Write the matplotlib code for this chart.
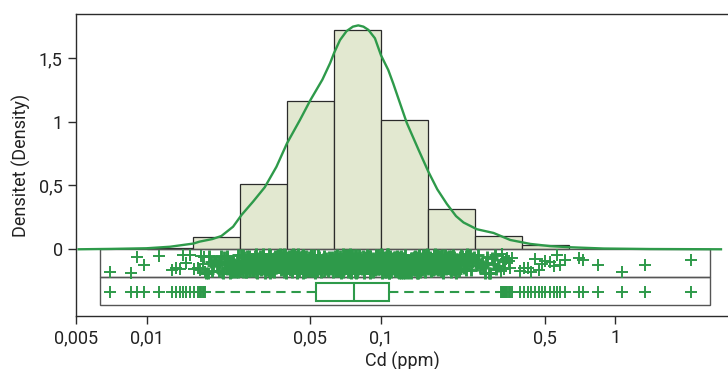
import numpy as np
import matplotlib.pyplot as plt
from matplotlib.patches import Rectangle
from matplotlib.ticker import FixedLocator, NullLocator

plt.rcParams['font.family'] = ['Roboto', 'DejaVu Sans']

# histogram (density per log10 unit), bins of 0.2 decades
bin_edges = [0.01, 0.0158, 0.0251, 0.0398, 0.0631, 0.1, 0.158, 0.251, 0.398, 0.631]
hist_density = [0.012, 0.10, 0.51, 1.16, 1.716, 1.013, 0.313, 0.107, 0.036]

# kernel density curve (log10 ppm, density)
kde_log10 = [-2.29, -2.15, -2.0, -1.90, -1.80, -1.774, -1.72, -1.681, -1.631,
             -1.595, -1.546, -1.496, -1.446, -1.401, -1.346, -1.301, -1.25,
             -1.217, -1.200, -1.175, -1.147, -1.12, -1.097, -1.075, -1.054,
             -1.026, -1.0, -0.969, -0.948, -0.92, -0.890, -0.84, -0.798,
             -0.76, -0.719, -0.68, -0.648, -0.591, -0.520, -0.449, -0.363,
             -0.28, -0.195, -0.05, 0.15, 0.45]
kde_density = [0.0, 0.003, 0.008, 0.02, 0.045, 0.06, 0.08, 0.104, 0.177,
               0.269, 0.373, 0.486, 0.647, 0.831, 1.013, 1.170, 1.33,
               1.46, 1.54, 1.64, 1.71, 1.745, 1.755, 1.745, 1.72,
               1.654, 1.52, 1.405, 1.30, 1.15, 0.99, 0.78, 0.608,
               0.47, 0.355, 0.26, 0.21, 0.157, 0.128, 0.073, 0.042,
               0.025, 0.016, 0.006, 0.002, 0.0]

# individual samples, log10 ppm
low_tail = [-2.154, -2.066, -2.040, -2.012, -1.949, -1.892, -1.876, -1.859,
            -1.845, -1.830, -1.816, -1.799, -1.781, -1.774, -1.766, -1.760,
            -1.755, -1.751]
high_tail = [-0.490, -0.486, -0.481, -0.476, -0.471, -0.466, -0.461, -0.456,
             -0.450, -0.443, -0.406, -0.392, -0.375, -0.360, -0.342, -0.328,
             -0.313, -0.299, -0.278, -0.264, -0.249, -0.235, -0.217, -0.154,
             -0.138, -0.076, 0.026, 0.128, 0.323]
body = [
    -1.745, -1.737, -1.734, -1.726, -1.722, -1.715, -1.713, -1.704, -1.700, -1.693,
    -1.691, -1.683, -1.679, -1.676, -1.668, -1.665, -1.659, -1.656, -1.650, -1.647,
    -1.640, -1.638, -1.632, -1.627, -1.625, -1.619, -1.617, -1.610, -1.608, -1.602,
    -1.598, -1.594, -1.590, -1.586, -1.583, -1.578, -1.575, -1.571, -1.566, -1.564,
    -1.559, -1.556, -1.551, -1.548, -1.545, -1.540, -1.536, -1.532, -1.528, -1.526,
    -1.521, -1.517, -1.514, -1.509, -1.505, -1.503, -1.498, -1.494, -1.491, -1.486,
    -1.484, -1.479, -1.475, -1.472, -1.467, -1.464, -1.460, -1.456, -1.453, -1.448,
    -1.445, -1.441, -1.437, -1.434, -1.429, -1.427, -1.422, -1.418, -1.416, -1.411,
    -1.407, -1.404, -1.400, -1.396, -1.393, -1.388, -1.386, -1.381, -1.378, -1.375,
    -1.370, -1.368, -1.363, -1.360, -1.357, -1.352, -1.349, -1.345, -1.341, -1.339,
    -1.334, -1.331, -1.328, -1.323, -1.321, -1.316, -1.313, -1.310, -1.305, -1.302,
    -1.298, -1.295, -1.291, -1.288, -1.284, -1.280, -1.277, -1.274, -1.270, -1.267,
    -1.263, -1.259, -1.257, -1.252, -1.249, -1.246, -1.242, -1.238, -1.236, -1.231,
    -1.228, -1.225, -1.221, -1.218, -1.214, -1.211, -1.207, -1.204, -1.200, -1.197,
    -1.193, -1.190, -1.186, -1.183, -1.179, -1.176, -1.172, -1.169, -1.165, -1.162,
    -1.158, -1.155, -1.151, -1.148, -1.144, -1.141, -1.137, -1.134, -1.131, -1.127,
    -1.123, -1.120, -1.117, -1.113, -1.109, -1.106, -1.103, -1.099, -1.095, -1.092,
    -1.089, -1.085, -1.081, -1.078, -1.075, -1.071, -1.067, -1.064, -1.061, -1.057,
    -1.053, -1.050, -1.047, -1.043, -1.039, -1.036, -1.033, -1.029, -1.025, -1.022,
    -1.019, -1.015, -1.011, -1.008, -1.005, -1.001, -0.997, -0.994, -0.991, -0.987,
    -0.983, -0.980, -0.977, -0.972, -0.970, -0.966, -0.962, -0.959, -0.956, -0.951,
    -0.949, -0.945, -0.941, -0.938, -0.934, -0.931, -0.927, -0.924, -0.920, -0.917,
    -0.913, -0.910, -0.906, -0.903, -0.899, -0.896, -0.892, -0.889, -0.885, -0.882,
    -0.878, -0.875, -0.871, -0.868, -0.864, -0.861, -0.857, -0.853, -0.850, -0.846,
    -0.843, -0.839, -0.836, -0.832, -0.829, -0.825, -0.822, -0.818, -0.814, -0.811,
    -0.808, -0.804, -0.800, -0.797, -0.793, -0.790, -0.786, -0.782, -0.779, -0.776,
    -0.772, -0.768, -0.765, -0.761, -0.758, -0.754, -0.750, -0.747, -0.744, -0.740,
    -0.736, -0.733, -0.729, -0.726, -0.722, -0.718, -0.715, -0.712, -0.708, -0.704,
    -0.701, -0.697, -0.694, -0.690, -0.686, -0.683, -0.680, -0.676, -0.672, -0.669,
    -0.665, -0.662, -0.658, -0.654, -0.650, -0.645, -0.641, -0.636, -0.633, -0.627,
    -0.623, -0.617, -0.613, -0.606, -0.602, -0.597, -0.590, -0.586, -0.579, -0.575,
    -0.568, -0.563, -0.557, -0.551, -0.547, -0.539, -0.534, -0.527, -0.520, -0.514,
    -0.508, -0.501,
]
body_core = [
    -1.562, -1.557, -1.550, -1.546, -1.539, -1.534, -1.527, -1.523, -1.516, -1.511,
    -1.504, -1.500, -1.493, -1.488, -1.482, -1.477, -1.470, -1.466, -1.459, -1.454,
    -1.447, -1.443, -1.436, -1.431, -1.425, -1.420, -1.413, -1.409, -1.402, -1.397,
    -1.390, -1.386, -1.379, -1.374, -1.368, -1.363, -1.356, -1.352, -1.345, -1.340,
    -1.333, -1.329, -1.322, -1.317, -1.311, -1.306, -1.299, -1.295, -1.288, -1.283,
    -1.276, -1.272, -1.265, -1.260, -1.254, -1.249, -1.242, -1.238, -1.231, -1.226,
    -1.219, -1.215, -1.208, -1.203, -1.197, -1.192, -1.185, -1.181, -1.174, -1.169,
    -1.162, -1.158, -1.151, -1.146, -1.140, -1.135, -1.128, -1.124, -1.117, -1.112,
    -1.105, -1.101, -1.094, -1.089, -1.083, -1.078, -1.071, -1.067, -1.060, -1.055,
    -1.048, -1.044, -1.037, -1.032, -1.026, -1.021, -1.014, -1.010, -1.003, -0.998,
    -0.991, -0.987, -0.980, -0.975, -0.969, -0.964, -0.957, -0.953, -0.946, -0.941,
    -0.934, -0.930, -0.923, -0.918, -0.912, -0.907, -0.900, -0.896, -0.889, -0.884,
    -0.877, -0.873, -0.866, -0.861, -0.855, -0.850, -0.843, -0.839, -0.832, -0.827,
    -0.820, -0.816, -0.809, -0.804, -0.798, -0.793, -0.786, -0.782, -0.775, -0.770,
    -0.763, -0.759, -0.752, -0.747, -0.741, -0.736, -0.729, -0.725, -0.718, -0.713,
    -0.706, -0.702,
]
body_extra = [
    -1.655, -1.649, -1.646, -1.641, -1.635, -1.631, -1.626, -1.621, -1.616, -1.612,
    -1.606, -1.601, -1.597, -1.592, -1.587, -1.581, -1.577, -1.573, -1.567, -1.562,
    -1.558, -1.553, -1.548, -1.543, -1.538, -1.533, -1.529, -1.524, -1.519, -1.515,
    -1.510, -1.505, -1.501, -1.496, -1.490, -1.487, -1.481, -1.476, -1.473, -1.468,
    -1.462, -1.458, -1.454, -1.449, -1.444, -1.439, -1.435, -1.430, -1.425, -1.421,
    -1.416, -1.412, -1.406, -1.401, -1.398, -1.392, -1.387, -1.384, -1.378, -1.373,
    -1.369, -1.364, -1.359, -1.355, -1.350, -1.346, -1.341, -1.336, -1.332, -1.327,
    -1.322, -1.318, -1.313, -1.308, -1.304, -1.299, -1.294, -1.290, -1.285, -1.281,
    -1.276, -1.271, -1.267, -1.262, -1.258, -1.253, -1.248, -1.244, -1.239, -1.234,
    -1.230, -1.225, -1.220, -1.216, -1.211, -1.207, -1.202, -1.197, -1.193, -1.188,
    -1.184, -1.179, -1.174, -1.170, -1.165, -1.160, -1.156, -1.151, -1.147, -1.142,
    -1.138, -1.133, -1.128, -1.124, -1.119, -1.115, -1.110, -1.105, -1.101, -1.096,
    -1.092, -1.087, -1.083, -1.078, -1.073, -1.069, -1.064, -1.060, -1.055, -1.050,
    -1.046, -1.041, -1.037, -1.032, -1.028, -1.023, -1.018, -1.014, -1.009, -1.005,
    -1.000, -0.996, -0.991, -0.986, -0.982, -0.977, -0.973, -0.968, -0.964, -0.959,
    -0.954, -0.950, -0.945, -0.941, -0.936, -0.932, -0.927, -0.922, -0.918, -0.913,
    -0.909, -0.904, -0.900, -0.895, -0.890, -0.886, -0.881, -0.877, -0.872, -0.868,
    -0.863, -0.858, -0.854, -0.849, -0.845, -0.840, -0.836, -0.831, -0.826, -0.822,
    -0.817, -0.813, -0.808, -0.804, -0.799, -0.794, -0.790, -0.785, -0.781, -0.776,
    -0.772, -0.767, -0.762, -0.758, -0.753, -0.749, -0.744, -0.740, -0.735, -0.730,
    -0.726, -0.721, -0.717, -0.712, -0.708, -0.703, -0.698, -0.694, -0.689, -0.685,
    -0.680, -0.675, -0.669, -0.664, -0.658, -0.651, -0.645, -0.638, -0.630, -0.621,
]

# box statistics (ppm)
box_q1, box_med, box_q3 = 0.0527, 0.0769, 0.1084
whisker_lo, whisker_hi = 0.0179, 0.319

xtick_vals = [0.005, 0.01, 0.05, 0.1, 0.5, 1]
xtick_labels = ['0,005', '0,01', '0,05', '0,1', '0,5', '1']
ytick_vals = [0, 0.5, 1, 1.5]
ytick_labels = ['0', '0,5', '1', '1,5']

green = '#2e9a4a'
dark = '#2b2b2b'

fig = plt.figure(figsize=(7.28, 3.69), dpi=100)
ax = fig.add_axes([0.1044, 0.1436, 0.8956, 0.8184])
ax.set_xscale('log')
ax.set_xlim(0.005, 3.02)
ax.set_ylim(-0.523, 1.844)

# histogram
edges = np.array(bin_edges)
ax.bar(edges[:-1], hist_density, width=np.diff(edges), align='edge',
       color='#e2e8d0', edgecolor=dark, linewidth=0.9, zorder=2)

# density curve
ax.plot(10 ** np.array(kde_log10), kde_density, color=green, lw=1.7,
        solid_joinstyle='round', zorder=6)

# the two strips under the histogram
panel_x0, panel_x1 = 0.00635, 2.53
row_h = 0.22
for y0 in (-row_h, -2 * row_h):
    ax.add_patch(Rectangle((panel_x0, y0), panel_x1 - panel_x0, row_h,
                           fill=False, ec='#555555', lw=1.0, zorder=3))

# jittered strip: vertical jitter from a quadratic Weyl sequence
def strip(values, start, mew):
    v = np.array(values)
    i = np.arange(start, start + v.size)
    jit = ((i * 0.6180339887 + i ** 2 * 0.4142135624) % 1.0) * 2 - 1
    ax.plot(10 ** v, -0.113 + 0.075 * jit, '+', color=green,
            ms=9, mew=mew, zorder=5)

tails = low_tail + high_tail
dense = body + body_core + body_extra
strip(dense, 0, 2.1)
strip(tails, len(dense), 1.4)

# box plot
vals = 10 ** np.array(tails + dense)
fliers = vals[(vals < whisker_lo) | (vals > whisker_hi)]
stats = [dict(med=box_med, q1=box_q1, q3=box_q3,
              whislo=whisker_lo, whishi=whisker_hi, fliers=fliers)]
ax.bxp(stats, positions=[-0.333], widths=0.14, orientation='horizontal',
       showcaps=False, patch_artist=True, manage_ticks=False,
       boxprops=dict(facecolor='white', edgecolor=green, linewidth=1.5),
       medianprops=dict(color=green, linewidth=1.5),
       whiskerprops=dict(color=green, linewidth=1.5, linestyle=(0, (4.5, 2.8))),
       flierprops=dict(marker='+', markeredgecolor=green, markersize=9,
                       markeredgewidth=1.4, linestyle='none'),
       zorder=5)

ax.xaxis.set_major_locator(FixedLocator(xtick_vals))
ax.xaxis.set_minor_locator(NullLocator())
ax.set_xticklabels(xtick_labels)
ax.set_yticks(ytick_vals)
ax.set_yticklabels(ytick_labels)
ax.tick_params(direction='out', length=6, width=1, color=dark,
               labelsize=13, labelcolor='#222222', pad=3.5)

ax.spines['right'].set_visible(False)
for s in ('left', 'top', 'bottom'):
    ax.spines[s].set_color(dark)
    ax.spines[s].set_linewidth(1.0)

ax.set_xlabel('Cd (ppm)', fontsize=13, color='#222222', labelpad=3)
ax.set_ylabel('Densitet (Density)', fontsize=13, color='#222222', labelpad=6)

fig.savefig('out.png', dpi=100)
